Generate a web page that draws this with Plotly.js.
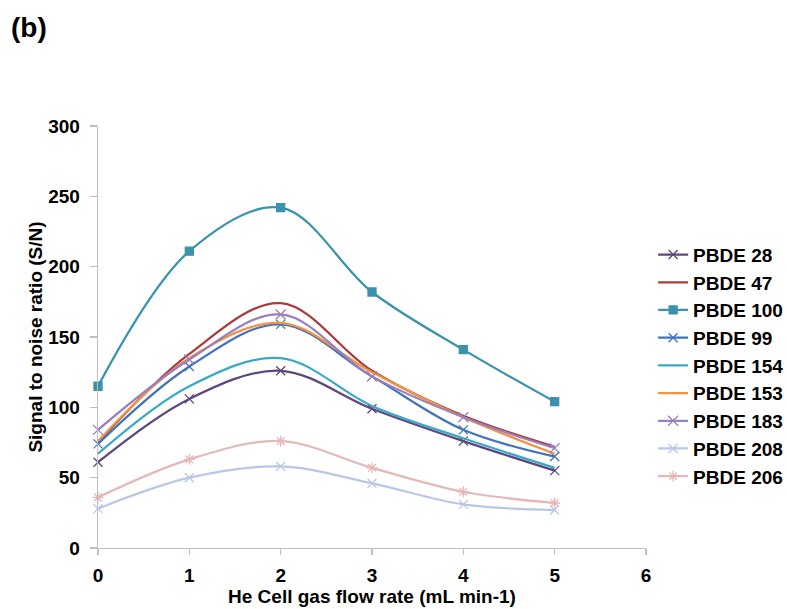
<!DOCTYPE html>
<html>
<head>
<meta charset="utf-8">
<script src="https://cdn.plot.ly/plotly-3.0.1.min.js"></script>
<style>html,body{margin:0;padding:0;background:#fff;}#chart{width:787px;height:609px;}</style>
</head>
<body>
<div id="chart"></div>
<script>
const flowRates = [0, 1, 2, 3, 4, 5];
const seriesNames = ["PBDE 28", "PBDE 47", "PBDE 100", "PBDE 99", "PBDE 154", "PBDE 153", "PBDE 183", "PBDE 208", "PBDE 206"];
const pbde28  = [61, 106, 126, 99, 76, 55];
const pbde47  = [75, 138, 174, 126, 94, 72];
const pbde100 = [115, 211, 242, 182, 141, 104];
const pbde99  = [74, 129, 159, 122, 84, 65];
const pbde154 = [67, 115, 135, 101, 78, 57];
const pbde153 = [76, 135, 160, 125, 93, 67];
const pbde183 = [84, 134, 166, 122, 93, 71];
const pbde208 = [28, 50, 58, 46, 31, 27];
const pbde206 = [36, 63, 76, 57, 40, 32];
const seriesValues = [pbde28, pbde47, pbde100, pbde99, pbde154, pbde153, pbde183, pbde208, pbde206];

const styles = [
  {color: "#5E467E", symbol: "x-thin-open", size: 9},
  {color: "#A93C3A", symbol: null},
  {color: "#3A93AB", symbol: "square", size: 8},
  {color: "#4273BD", symbol: "x-thin-open", size: 9},
  {color: "#3AAAC4", symbol: null},
  {color: "#F6923F", symbol: null},
  {color: "#9A80BC", symbol: "x-thin-open", size: 10},
  {color: "#B8C8E4", symbol: "x-thin-open", size: 9},
  {color: "#E3B8B7", symbol: "asterisk-open", size: 9}
];

const traces = seriesNames.map((name, i) => {
  const s = styles[i];
  const t = {
    type: "scatter",
    x: flowRates,
    y: seriesValues[i],
    name: name,
    line: {color: s.color, width: 2.25, shape: "spline", smoothing: 1},
    cliponaxis: false
  };
  if (s.symbol) {
    t.mode = "lines+markers";
    t.marker = {symbol: s.symbol, size: s.size, color: s.color, line: {color: s.color, width: 1.3}};
  } else {
    t.mode = "lines";
  }
  return t;
});

const fontFam = "Liberation Sans, Arial, sans-serif";
const layout = {
  width: 787, height: 609,
  margin: {l: 98, r: 141, t: 126, b: 61, autoexpand: false},
  paper_bgcolor: "#fff", plot_bgcolor: "#fff",
  font: {family: fontFam, size: 19, color: "#000", weight: "bold"},
  showlegend: true,
  legend: {
    x: 1.013, xanchor: "left", y: 0.74, yanchor: "top",
    font: {family: fontFam, size: 19, color: "#000", weight: "bold"},
    tracegroupgap: 0, itemwidth: 30, bgcolor: "rgba(0,0,0,0)"
  },
  xaxis: {
    range: [0, 6], dtick: 1, tick0: 0,
    showgrid: false, zeroline: false,
    showline: true, linecolor: "#BFBFBF", linewidth: 1.3,
    ticks: "outside", ticklen: 6, tickcolor: "#BFBFBF", tickwidth: 1.3,
    ticklabelstandoff: 4,
    tickfont: {family: fontFam, size: 19, color: "#000", weight: "bold"},
    title: {text: "He Cell gas flow rate (mL min-1)", standoff: 4,
            font: {family: fontFam, size: 19, color: "#000", weight: "bold"}}
  },
  yaxis: {
    range: [0, 300], dtick: 50, tick0: 0,
    showgrid: false, zeroline: false,
    showline: true, linecolor: "#BFBFBF", linewidth: 1.3,
    ticks: "outside", ticklen: 7, tickcolor: "#BFBFBF", tickwidth: 1.3,
    ticklabelstandoff: 6,
    tickfont: {family: fontFam, size: 19, color: "#000", weight: "bold"},
    title: {text: "Signal to noise ratio (S/N)", standoff: 0,
            font: {family: fontFam, size: 19, color: "#000", weight: "bold"}}
  },
  annotations: [{
    text: "(b)", xref: "paper", yref: "paper",
    x: -0.162, y: 1.275, xanchor: "left", yanchor: "top", showarrow: false,
    font: {family: fontFam, size: 28, color: "#000", weight: "bold"}
  }]
};

Plotly.newPlot("chart", traces, layout, {displayModeBar: false, staticPlot: true});
</script>
</body>
</html>
